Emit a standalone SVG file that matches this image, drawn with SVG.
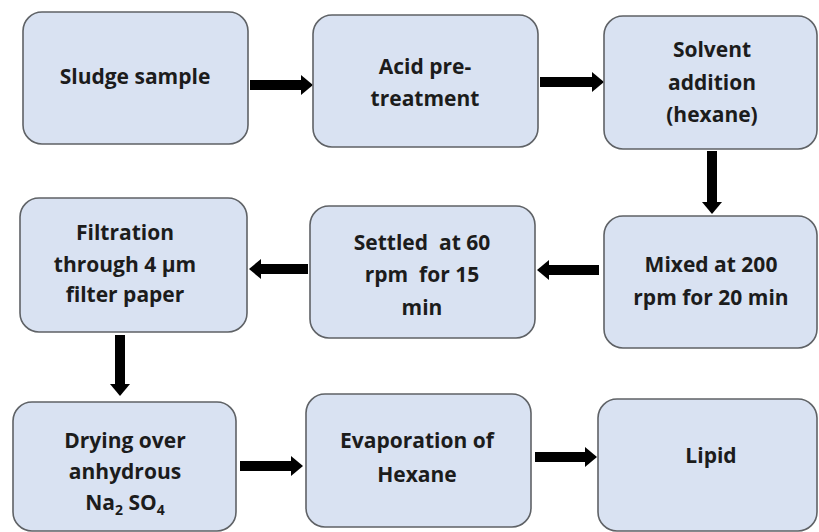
<svg xmlns="http://www.w3.org/2000/svg" width="819" height="532" viewBox="0 0 819 532">
<style>
.box{fill:#d9e2f2;stroke:#5f6266;stroke-width:1.6}
.t{font-family:"Open Sans","Liberation Sans",sans-serif;font-weight:700;font-size:21px;fill:#1c1c1c;text-anchor:middle;white-space:pre}
.sub{font-size:14px}
.arr{stroke:#000;stroke-width:10;fill:none;marker-end:url(#ah)}
</style>
<defs>
<marker id="ah" markerUnits="userSpaceOnUse" markerWidth="12" markerHeight="20" refX="0" refY="10" orient="auto" overflow="visible">
<path d="M0,0 L12,10 L0,20 Z" fill="#000"/>
</marker>
</defs>
<rect width="819" height="532" fill="#fff"/>
<g id="connectors">
<line class="arr" x1="250" y1="85" x2="301" y2="85"/>
<line class="arr" x1="540" y1="82" x2="592" y2="82"/>
<line class="arr" x1="712" y1="151" x2="712" y2="202"/>
<line class="arr" x1="599" y1="270" x2="549" y2="270"/>
<line class="arr" x1="308" y1="269" x2="261" y2="269"/>
<line class="arr" x1="120" y1="335" x2="120" y2="384"/>
<line class="arr" x1="240" y1="466" x2="291" y2="466"/>
<line class="arr" x1="535" y1="457" x2="585" y2="457"/>
</g>
<g id="sludge">
<rect class="box" x="23" y="12" width="225" height="132" rx="19"/>
<text class="t" x="135" y="84">Sludge sample</text>
</g>
<g id="acid">
<rect class="box" x="313" y="15" width="225" height="132" rx="19"/>
<text class="t" x="425" y="74">Acid pre-</text>
<text class="t" x="425" y="106">treatment</text>
</g>
<g id="solvent">
<rect class="box" x="604" y="16" width="213" height="133" rx="19"/>
<text class="t" x="712" y="57">Solvent</text>
<text class="t" x="712" y="90">addition</text>
<text class="t" x="712" y="122">(hexane)</text>
</g>
<g id="mixed">
<rect class="box" x="604" y="216" width="213" height="132" rx="19"/>
<text class="t" x="711" y="272">Mixed at 200</text>
<text class="t" x="711" y="305">rpm for 20 min</text>
</g>
<g id="settled">
<rect class="box" x="310" y="206" width="225" height="132" rx="19"/>
<text class="t" x="422" y="250">Settled  at 60</text>
<text class="t" x="422" y="282">rpm  for 15</text>
<text class="t" x="422" y="315">min</text>
</g>
<g id="filtration">
<rect class="box" x="20" y="198" width="227" height="134" rx="19"/>
<text class="t" x="125" y="240">Filtration</text>
<text class="t" x="125" y="272">through 4 µm</text>
<text class="t" x="125" y="302">filter paper</text>
</g>
<g id="drying">
<rect class="box" x="13" y="402" width="223" height="129" rx="19"/>
<text class="t" x="125" y="448">Drying over</text>
<text class="t" x="125" y="479">anhydrous</text>
<text class="t" x="125" y="510">Na<tspan class="sub" dy="5">2</tspan><tspan dy="-5"> SO</tspan><tspan class="sub" dy="5">4</tspan></text>
</g>
<g id="evaporation">
<rect class="box" x="306" y="394" width="225" height="133" rx="19"/>
<text class="t" x="417" y="448">Evaporation of</text>
<text class="t" x="417" y="482">Hexane</text>
</g>
<g id="lipid">
<rect class="box" x="598" y="399" width="219" height="132" rx="19"/>
<text class="t" x="711" y="463">Lipid</text>
</g>
</svg>
